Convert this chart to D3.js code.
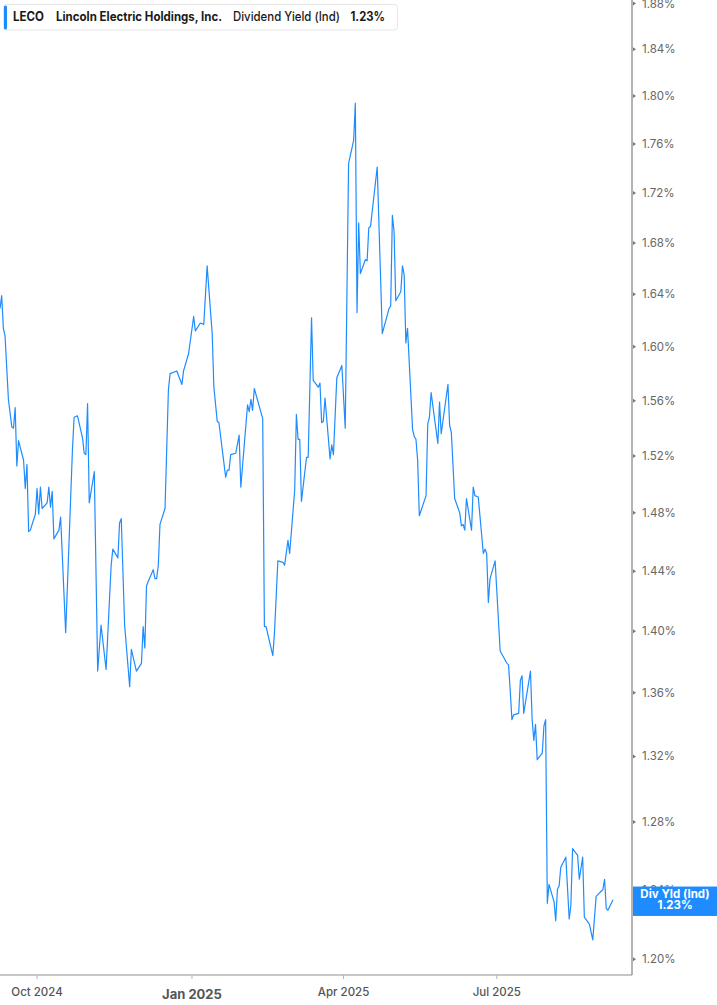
<!DOCTYPE html>
<html>
<head>
<meta charset="utf-8">
<script src="https://cdn.jsdelivr.net/npm/d3@7"></script>
<style>
  body { margin: 0; background: #fff; }
  svg { display: block; font-family: Inter, "Noto Sans", sans-serif; }
</style>
</head>
<body>
<svg id="chart" width="717" height="1005"></svg>
<script>
// header
const ticker = "LECO";
const company = "Lincoln Electric Holdings, Inc.";
const metric = "Dividend Yield (Ind)";
const lastLabel = "Div Yld (Ind)";

// axis ticks
const yTicks = [1.20, 1.24, 1.28, 1.32, 1.36, 1.40, 1.44, 1.48, 1.52, 1.56, 1.60, 1.64, 1.68, 1.72, 1.76, 1.80, 1.84, 1.88];
const xTickDates = ["2024-10-01", "2025-01-01", "2025-04-01", "2025-07-01"];
const xTickLabels = ["Oct 2024", "Jan 2025", "Apr 2025", "Jul 2025"];

// series (dividend yield, %)
const dates = [
  "2024-09-09","2024-09-10","2024-09-11","2024-09-12","2024-09-14","2024-09-16","2024-09-17","2024-09-18","2024-09-19","2024-09-20",
  "2024-09-23","2024-09-24","2024-09-25","2024-09-26","2024-09-27","2024-09-30","2024-10-01","2024-10-02","2024-10-03","2024-10-04",
  "2024-10-07","2024-10-08","2024-10-09","2024-10-10","2024-10-11","2024-10-14","2024-10-15","2024-10-18","2024-10-22","2024-10-23",
  "2024-10-25","2024-10-28","2024-10-29","2024-10-30","2024-10-31","2024-11-01","2024-11-04","2024-11-06","2024-11-08","2024-11-11",
  "2024-11-14","2024-11-15","2024-11-18","2024-11-19","2024-11-20","2024-11-22","2024-11-25","2024-11-26","2024-11-29","2024-12-02",
  "2024-12-03","2024-12-04","2024-12-05","2024-12-06","2024-12-09","2024-12-10","2024-12-11","2024-12-12","2024-12-13","2024-12-16",
  "2024-12-18","2024-12-19","2024-12-23","2024-12-26","2024-12-27","2024-12-30","2025-01-02","2025-01-03","2025-01-06","2025-01-08",
  "2025-01-10","2025-01-13","2025-01-14","2025-01-16","2025-01-17","2025-01-21","2025-01-22","2025-01-23","2025-01-24","2025-01-27",
  "2025-01-29","2025-01-30","2025-02-03","2025-02-04","2025-02-05","2025-02-06","2025-02-07","2025-02-12","2025-02-13","2025-02-14",
  "2025-02-18","2025-02-19","2025-02-21","2025-02-24","2025-02-25","2025-02-27","2025-02-28","2025-03-03","2025-03-04","2025-03-05",
  "2025-03-06","2025-03-07","2025-03-10","2025-03-11","2025-03-13","2025-03-14","2025-03-17","2025-03-18","2025-03-19","2025-03-20",
  "2025-03-21","2025-03-24","2025-03-25","2025-03-26","2025-03-28","2025-03-31","2025-04-02","2025-04-04","2025-04-07","2025-04-08",
  "2025-04-09","2025-04-10","2025-04-11","2025-04-14","2025-04-15","2025-04-16","2025-04-17","2025-04-21","2025-04-24","2025-04-28",
  "2025-04-29","2025-04-30","2025-05-01","2025-05-02","2025-05-05","2025-05-06","2025-05-07","2025-05-08","2025-05-09","2025-05-12",
  "2025-05-13","2025-05-14","2025-05-15","2025-05-16","2025-05-20","2025-05-21","2025-05-22","2025-05-23","2025-05-27","2025-05-28",
  "2025-05-29","2025-06-02","2025-06-03","2025-06-04","2025-06-06","2025-06-09","2025-06-10","2025-06-11","2025-06-12","2025-06-13",
  "2025-06-16","2025-06-17","2025-06-18","2025-06-20","2025-06-23","2025-06-24","2025-06-25","2025-06-26","2025-06-27","2025-06-30",
  "2025-07-03","2025-07-07","2025-07-08","2025-07-09","2025-07-10","2025-07-11","2025-07-14","2025-07-15","2025-07-16","2025-07-17",
  "2025-07-21","2025-07-22","2025-07-23","2025-07-24","2025-07-25","2025-07-28","2025-07-29","2025-07-30","2025-07-31","2025-08-01",
  "2025-08-04","2025-08-05","2025-08-06","2025-08-07","2025-08-08","2025-08-11","2025-08-13","2025-08-14","2025-08-15","2025-08-18",
  "2025-08-19","2025-08-21","2025-08-22","2025-08-25","2025-08-27","2025-08-29","2025-09-02","2025-09-03","2025-09-04","2025-09-05",
  "2025-09-08"
];
const yields = [
  1.629,1.639,1.614,1.608,1.561,1.541,1.540,1.555,1.513,1.531,
  1.517,1.497,1.514,1.467,1.468,1.479,1.497,1.479,1.498,1.483,
  1.487,1.498,1.484,1.495,1.462,1.468,1.477,1.399,1.524,1.548,
  1.549,1.533,1.522,1.521,1.558,1.487,1.509,1.374,1.404,1.375,
  1.444,1.455,1.449,1.473,1.476,1.404,1.364,1.388,1.374,1.379,
  1.403,1.389,1.430,1.433,1.441,1.435,1.435,1.444,1.472,1.483,
  1.568,1.580,1.582,1.572,1.582,1.595,1.623,1.612,1.618,1.617,
  1.662,1.610,1.570,1.545,1.544,1.505,1.510,1.510,1.521,1.522,
  1.535,1.498,1.557,1.552,1.561,1.553,1.569,1.547,1.403,1.403,
  1.384,1.399,1.447,1.446,1.444,1.461,1.452,1.496,1.550,1.532,
  1.532,1.488,1.519,1.519,1.622,1.575,1.570,1.573,1.544,1.545,
  1.562,1.518,1.528,1.521,1.577,1.586,1.540,1.744,1.763,1.794,
  1.626,1.696,1.656,1.667,1.666,1.692,1.693,1.741,1.610,1.629,
  1.631,1.702,1.689,1.635,1.642,1.662,1.655,1.603,1.614,1.539,
  1.534,1.532,1.517,1.478,1.492,1.543,1.548,1.566,1.529,1.559,
  1.536,1.572,1.542,1.537,1.490,1.480,1.471,1.472,1.468,1.490,
  1.468,1.498,1.492,1.491,1.452,1.455,1.452,1.419,1.435,1.447,
  1.387,1.379,1.378,1.361,1.343,1.346,1.347,1.368,1.371,1.347,
  1.374,1.343,1.330,1.340,1.318,1.322,1.339,1.343,1.232,1.243,
  1.233,1.222,1.240,1.242,1.253,1.259,1.223,1.231,1.264,1.260,
  1.246,1.259,1.224,1.220,1.211,1.236,1.240,1.246,1.229,1.228,
  1.234
];

const parse = d3.timeParse("%Y-%m-%d");
const data = dates.map((d, i) => ({ date: parse(d), value: yields[i] }));

const svg = d3.select("#chart");
const plotRight = 632;
const plotBottom = 975;

const x = d3.scaleTime()
  .domain([new Date(2024, 8, 9), new Date(2025, 8, 19, 7)])
  .range([0, plotRight]);

const y = d3.scaleLog()
  .domain([1.1912, 1.8831])
  .range([plotBottom, 0]);

const pct = d3.format(".2f");

// x axis
const xAxis = svg.append("g").attr("transform", `translate(0,${plotBottom})`);
xAxis.append("line")
  .attr("x1", 0).attr("x2", plotRight)
  .attr("stroke", "#b4b4b4").attr("stroke-width", 1.5);
const xt = xAxis.selectAll(".xt")
  .data(xTickDates.map((d, i) => ({ date: parse(d), label: xTickLabels[i] })))
  .join("g")
  .attr("class", "xt")
  .attr("transform", d => `translate(${x(d.date)},0)`);
xt.append("line").attr("y1", 0).attr("y2", 4).attr("stroke", "#b4b4b4");
xt.append("text")
  .attr("text-anchor", "middle")
  .attr("y", d => d.label.startsWith("Jan") ? 23.5 : 20.5)
  .attr("fill", "#555")
  .style("font-size", d => d.label.startsWith("Jan") ? "13px" : "11.5px")
  .style("font-weight", d => d.label.startsWith("Jan") ? 700 : 500)
  .text(d => d.label);

// y axis
const yAxis = svg.append("g").attr("transform", `translate(${plotRight},0)`);
yAxis.append("line")
  .attr("y1", 0).attr("y2", plotBottom)
  .attr("stroke", "#9a9a9a").attr("stroke-width", 1.5);
const yt = yAxis.selectAll(".yt")
  .data(yTicks)
  .join("g")
  .attr("class", "yt")
  .attr("transform", d => `translate(0,${y(d)})`);
yt.append("path").attr("d", "M1,-2L4,0L1,2Z").attr("fill", "#777");
yt.append("text")
  .attr("x", 10)
  .attr("dy", "0.35em")
  .attr("fill", "#666")
  .style("font-size", "11.5px")
  .text(d => pct(d) + "%");

// series line
const line = d3.line()
  .x(d => x(d.date))
  .y(d => y(d.value));

svg.append("path")
  .datum(data)
  .attr("fill", "none")
  .attr("stroke", "#1e8cff")
  .attr("stroke-width", 1.2)
  .attr("stroke-linejoin", "round")
  .attr("d", line);

// last value label
const last = data[data.length - 1];
const ly = y(last.value);
const lbl = svg.append("g").attr("transform", `translate(${plotRight},${ly})`);
lbl.append("rect")
  .attr("x", 1).attr("y", -13.3)
  .attr("width", 85).attr("height", 29.4)
  .attr("fill", "#1e8cff");
lbl.append("text")
  .attr("x", 43).attr("y", -1.8)
  .attr("text-anchor", "middle").attr("fill", "#fff")
  .style("font-size", "11.5px").style("font-weight", 700)
  .text(lastLabel);
lbl.append("text")
  .attr("x", 43).attr("y", 9)
  .attr("text-anchor", "middle").attr("fill", "#fff")
  .style("font-size", "11.5px").style("font-weight", 700)
  .text(pct(last.value) + "%");

// header box
const head = svg.append("g");
head.append("rect")
  .attr("x", 3.5).attr("y", 4.5).attr("width", 394).attr("height", 25.5)
  .attr("rx", 3)
  .attr("fill", "#fff").attr("stroke", "#e6e6e6");
head.append("rect")
  .attr("x", 4).attr("y", 5.5).attr("width", 3).attr("height", 24)
  .attr("rx", 1.5)
  .attr("fill", "#1e8cff");
const headParts = [
  { text: ticker, x: 13, w: 31, weight: 700 },
  { text: company, x: 56, w: 166, weight: 700 },
  { text: metric, x: 233, w: 107, weight: 500 },
  { text: pct(last.value) + "%", x: 350.5, w: 34.5, weight: 700 }
];
head.selectAll(".hp")
  .data(headParts)
  .join("text")
  .attr("class", "hp")
  .attr("x", d => d.x)
  .attr("y", 21)
  .attr("textLength", d => d.w)
  .attr("lengthAdjust", "spacingAndGlyphs")
  .attr("fill", "#1a1a1a")
  .style("font-size", "12.5px")
  .style("font-weight", d => d.weight)
  .text(d => d.text);
</script>
</body>
</html>
